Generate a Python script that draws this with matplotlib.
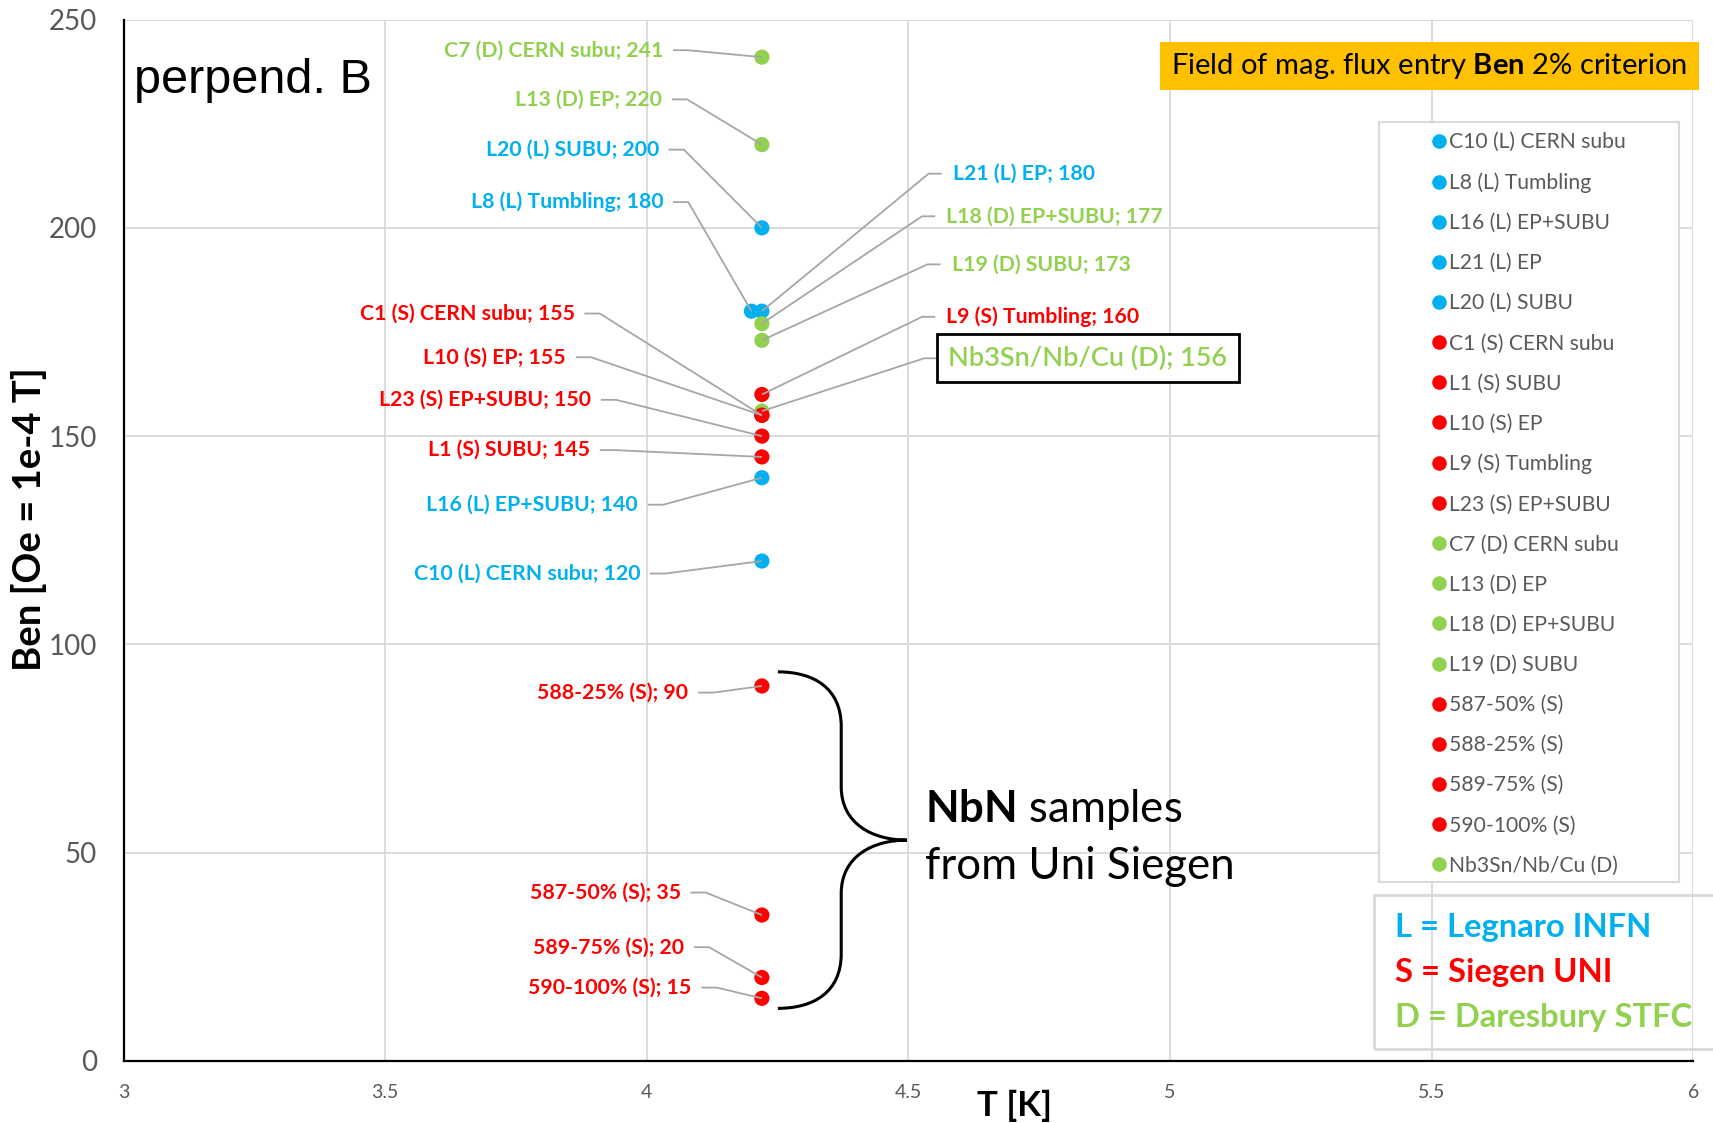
import matplotlib
matplotlib.use("Agg")
import matplotlib.pyplot as plt
from matplotlib.path import Path
from matplotlib.patches import PathPatch, Rectangle
from matplotlib.lines import Line2D

plt.rcParams['font.family'] = ['Lato', 'DejaVu Sans']
plt.rcParams['mathtext.fontset'] = 'custom'
plt.rcParams['mathtext.rm'] = 'Lato'
plt.rcParams['mathtext.bf'] = 'Lato:bold'
plt.rcParams['mathtext.it'] = 'Lato:italic'

# ---------------- data ----------------
names = ["C10 (L) CERN subu", "L8 (L) Tumbling", "L16 (L) EP+SUBU", "L21 (L) EP",
         "L20 (L) SUBU", "C1 (S) CERN subu", "L1 (S) SUBU", "L10 (S) EP",
         "L9 (S) Tumbling", "L23 (S) EP+SUBU", "C7 (D) CERN subu", "L13 (D) EP",
         "L18 (D) EP+SUBU", "L19 (D) SUBU", "587-50% (S)", "588-25% (S)",
         "589-75% (S)", "590-100% (S)", "Nb3Sn/Nb/Cu (D)"]
lab_group = ["L", "L", "L", "L", "L", "S", "S", "S", "S", "S", "D", "D", "D", "D",
             "S", "S", "S", "S", "D"]
T_K = [4.22, 4.20, 4.22, 4.22, 4.22, 4.22, 4.22, 4.22, 4.22, 4.22, 4.22, 4.22,
       4.22, 4.22, 4.22, 4.22, 4.22, 4.22, 4.22]
Ben = [120, 180, 140, 180, 200, 155, 145, 155, 160, 150, 241, 220, 177, 173,
       35, 90, 20, 15, 156]

xticks = [3, 3.5, 4, 4.5, 5, 5.5, 6]
xticklabels = ["3", "3.5", "4", "4.5", "5", "5.5", "6"]
yticks = [0, 50, 100, 150, 200, 250]

group_colors = {"L": "#00B0F0", "S": "#FF0000", "D": "#92D050"}
group_text = {"L": "L = Legnaro INFN", "S": "S = Siegen UNI", "D": "D = Daresbury STFC"}

# label layout (reference pixel positions of the label edge: x, y-centre, side)
label_layout = {
    "C7 (D) CERN subu": (607, 46, "left"),
    "L13 (D) EP": (606, 91, "left"),
    "L20 (L) SUBU": (603, 137, "left"),
    "L8 (L) Tumbling": (607, 185, "left"),
    "C1 (S) CERN subu": (526, 287, "left"),
    "L10 (S) EP": (518, 327, "left"),
    "L23 (S) EP+SUBU": (541, 366, "left"),
    "L1 (S) SUBU": (540, 412, "left"),
    "L16 (L) EP+SUBU": (584, 462, "left"),
    "C10 (L) CERN subu": (586, 525, "left"),
    "588-25% (S)": (630, 634, "left"),
    "587-50% (S)": (623, 817, "left"),
    "589-75% (S)": (626, 867, "left"),
    "590-100% (S)": (633, 904, "left"),
    "L21 (L) EP": (872, 159, "right"),
    "L18 (D) EP+SUBU": (866, 198, "right"),
    "L19 (D) SUBU": (871, 242, "right"),
    "L9 (S) Tumbling": (866, 290, "right"),
    "Nb3Sn/Nb/Cu (D)": (868, 328, "right"),
}

# ---------------- figure ----------------
W, H = 1713, 1123
fig = plt.figure(figsize=(W / 100, H / 100), dpi=100)
ax = fig.add_axes([0.0721, 0.0554, 0.9164, 0.9271])
ax.set_xlim(3, 6)
ax.set_ylim(0, 250)


def px2ax(xd, yd):
    return (xd - 113) / 1437.0, (971 - yd) / 953.0


def px2data(xd, yd):
    fx, fy = px2ax(xd, yd)
    return 3 + 3 * fx, 250 * fy


ax.set_xticks(xticks)
ax.set_xticklabels(xticklabels)
ax.set_yticks(yticks)
ax.tick_params(axis='x', length=0, pad=17, labelsize=14, labelcolor="#595959")
ax.tick_params(axis='y', length=0, pad=19, labelsize=20, labelcolor="#595959")
ax.grid(True, color="#d9d9d9", lw=1.3, zorder=0)
ax.set_axisbelow(True)
for s in ["top", "right"]:
    ax.spines[s].set_visible(False)
for s in ["left", "bottom"]:
    ax.spines[s].set_color("black")
    ax.spines[s].set_linewidth(1.6)

fig.text(0.0172, 0.5378, "Ben [Oe = 1e-4 T]", rotation=90, ha="center", va="center",
         fontsize=27.5, fontweight="bold", color="black")
fig.text(0.592, 0.0152, "T [K]", ha="center", va="center",
         fontsize=25, fontweight="bold", color="black")

# scatter points
for n, g, t, b in zip(names, lab_group, T_K, Ben):
    z = 2.5 if n.startswith("Nb3Sn") else 3
    ax.scatter([t], [b], s=120, color=group_colors[g], edgecolors="none",
               zorder=z, label=n)

# data labels with leader lines
for n, g, t, b in zip(names, lab_group, T_K, Ben):
    xd, yd, side = label_layout[n]
    lx, ly = px2data(xd, yd)
    txt = f"{n}; {b}"
    if side == "left":
        s0 = px2data(xd + 9, yd)[0]
        s1 = px2data(xd + 23, yd)[0]
        ha = "right"
    else:
        s0 = px2data(xd - 10, yd)[0]
        s1 = px2data(xd - 22, yd)[0]
        ha = "left"
    ax.plot([s0, s1, t], [ly, ly, b], color="#a6a6a6", lw=1.3, zorder=4,
            solid_capstyle="butt")
    if n.startswith("Nb3Sn"):
        ax.text(lx, ly, txt, ha=ha, va="center", fontsize=19.5, color=group_colors[g],
                fontweight="semibold", zorder=5,
                bbox=dict(boxstyle="square,pad=0.42", fc="white", ec="black", lw=2))
    else:
        ax.text(lx, ly, txt, ha=ha, va="center", fontsize=15.3, fontweight="bold",
                color=group_colors[g], zorder=5)

# perpend. B
ax.text(*px2ax(123, 74), "perpend. B", transform=ax.transAxes, ha="left",
        va="center", fontsize=35, family="Liberation Sans", color="black")

# orange title box
x0, y0 = px2ax(1062, 82)
x1, y1 = px2ax(1555, 38)
ax.add_patch(Rectangle((x0, y0), x1 - x0, y1 - y0, transform=ax.transAxes,
                       fc="#FFC000", ec="none", zorder=6, clip_on=False))
ax.text((x0 + x1) / 2, (y0 + y1) / 2, r"Field of mag. flux entry $\mathbf{Ben}$ 2% criterion",
        transform=ax.transAxes, ha="center", va="center", fontsize=21,
        color="black", zorder=7)

# legend frame
lx0, ly0 = px2ax(1262, 807)
lx1, ly1 = px2ax(1537, 112)
ax.add_patch(Rectangle((lx0, ly0), lx1 - lx0, ly1 - ly0, transform=ax.transAxes,
                       fc="white", ec="#d9d9d9", lw=1.5, zorder=6, clip_on=False))
leg_handles = [Line2D([], [], marker="o", ls="none", markersize=10.5,
                      markerfacecolor=group_colors[g], markeredgecolor="none")
               for g in lab_group]
ax_lx, ax_ly = px2ax(1312, 121)
leg = ax.legend(leg_handles, names, loc="upper left", bbox_to_anchor=(ax_lx, ax_ly),
                bbox_transform=ax.transAxes, frameon=False, fontsize=15.2,
                handlelength=0.5, handletextpad=0.25, labelspacing=0.953,
                borderpad=0, borderaxespad=0)
leg.set_zorder(7)
for t in leg.get_texts():
    t.set_color("#595959")

# lab key box
bx0, by0 = px2ax(1258, 960)
bx1, by1 = px2ax(1600, 819)
ax.add_patch(Rectangle((bx0, by0), bx1 - bx0, by1 - by0, transform=ax.transAxes,
                       fc="none", ec="#d9d9d9", lw=2, zorder=6, clip_on=False))
for g, yd in zip(["L", "S", "D"], [849, 890, 931]):
    ax.text(*px2ax(1277, yd), group_text[g], transform=ax.transAxes, ha="left",
            va="center", fontsize=23.6, fontweight="bold", color=group_colors[g],
            zorder=7)

# brace
bp = [(712, 615), (745, 615), (770, 630), (770, 665), (770, 720),
      (770, 755), (800, 769), (830, 769),
      (800, 769), (770, 783), (770, 818), (770, 873),
      (770, 908), (745, 923), (712, 923)]
codes = [Path.MOVETO, Path.CURVE4, Path.CURVE4, Path.CURVE4, Path.LINETO,
         Path.CURVE4, Path.CURVE4, Path.CURVE4,
         Path.CURVE4, Path.CURVE4, Path.CURVE4, Path.LINETO,
         Path.CURVE4, Path.CURVE4, Path.CURVE4]
ax.add_patch(PathPatch(Path([px2ax(*p) for p in bp], codes), transform=ax.transAxes,
                       fc="none", ec="black", lw=2.2, zorder=5))
ax.text(*px2ax(847, 741), r"$\mathbf{NbN}$ samples", transform=ax.transAxes,
        ha="left", va="center", fontsize=31.5, color="black")
ax.text(*px2ax(847, 793), "from Uni Siegen", transform=ax.transAxes,
        ha="left", va="center", fontsize=31.5, color="black")

fig.savefig("out.png", dpi=100)
